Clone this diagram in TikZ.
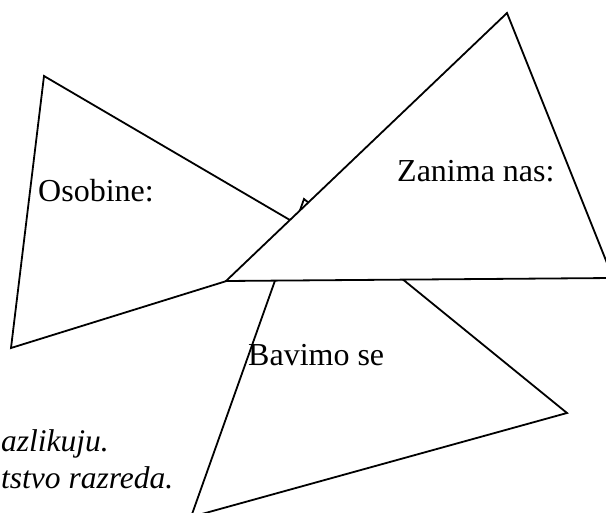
\documentclass[tikz,border=0pt]{standalone}
\usepackage{fontspec}
\setmainfont{Liberation Serif}
\begin{document}
\begin{tikzpicture}[x=1pt,y=-1pt,
  tri/.style={draw=black,fill=white,line width=1.8pt,line join=miter},
  lbl/.style={anchor=base west,inner sep=0pt,font=\fontsize{32}{37}\selectfont},
  ilbl/.style={anchor=base west,inner sep=0pt,font=\fontsize{31.5}{37}\selectfont\itshape}]
\useasboundingbox (0,0) rectangle (606,513);
\clip (0,0) rectangle (606,513);
% triangle 1 (Osobine)
\coordinate (a1) at (44,76);
\coordinate (a2) at (11,348);
\coordinate (a3) at (336,247);
% triangle 3 (Bavimo se)
\coordinate (c1) at (304,199);
\coordinate (c2) at (567,413);
\coordinate (c3) at (191,517);
% triangle 2 (Zanima nas)
\coordinate (b1) at (226,281);
\coordinate (b2) at (507,13);
\coordinate (b3) at (613,278);
\draw[tri] (a1) -- (a3) -- (a2) -- cycle;
\draw[tri] (c1) -- (c2) -- (c3) -- cycle;
\draw[tri] (b1) -- (b2) -- (b3) -- cycle;
\node[lbl] (osobine) at (38,202) {Osobine:};
\node[lbl] (zanima) at (397,182) {Zanima nas:};
\node[lbl] (bavimo) at (248,366) {Bavimo se};
\node[ilbl] (line1) at (1,452) {azlikuju.};
\node[ilbl] (line2) at (1,489) {tstvo razreda.};
\end{tikzpicture}
\end{document}
